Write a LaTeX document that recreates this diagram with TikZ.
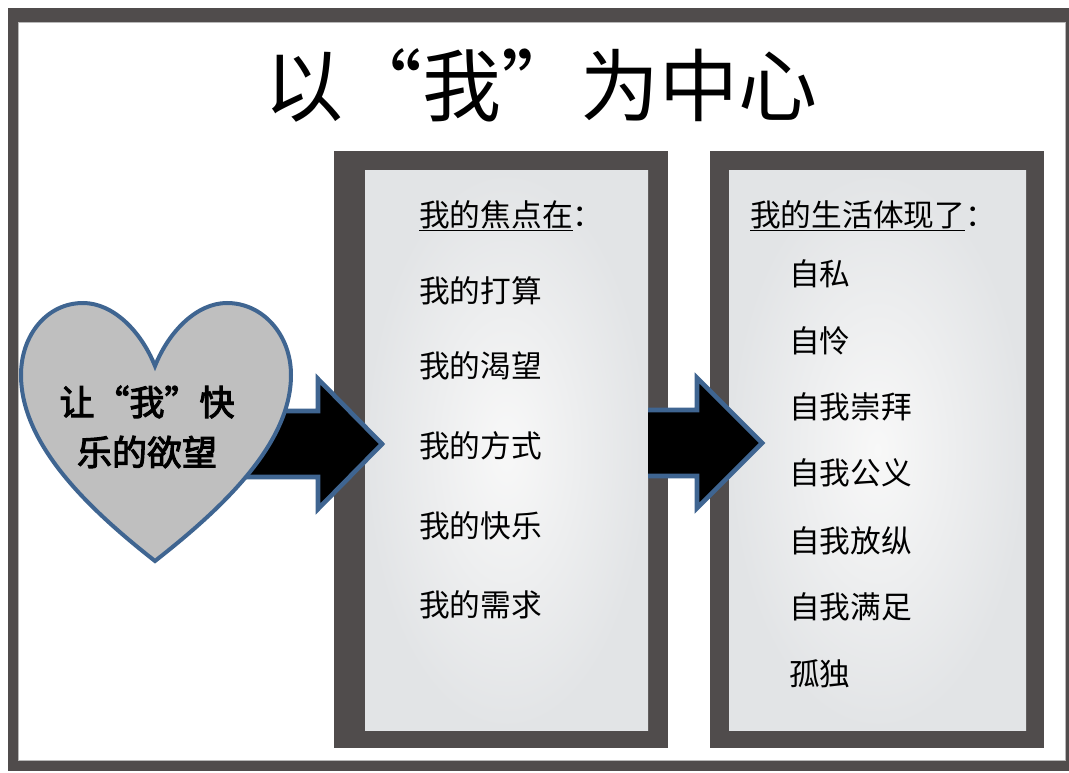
\documentclass[tikz,border=0pt]{standalone}
\usepackage{fontspec}
\setmainfont{Noto Sans CJK SC}[RawFeature=+fwid]
\newfontfamily\heartfont{Noto Sans CJK SC}[RawFeature=+fwid,FakeBold=3]
\definecolor{framegray}{HTML}{504C4C}
\definecolor{frameedge}{HTML}{B8B8B8}
\definecolor{heartblue}{HTML}{3F6591}
\definecolor{heartfill}{HTML}{BFBFBF}
\definecolor{panelout}{HTML}{E2E4E6}
\definecolor{panelin}{HTML}{F8F8F8}
\tikzset{
  panelframe/.style={fill=framegray,draw=none},
  panelface/.style={inner color=panelin,outer color=panelout,draw=none},
  arrowfill/.style={fill=black,draw=none},
  arrowline/.style={draw=heartblue,line width=4.6pt,line join=miter,miter limit=10},
  item/.style={anchor=west,inner sep=0pt,font=\fontsize{30.7}{36}\selectfont},
  hearttext/.style={anchor=center,inner sep=0pt,font=\fontsize{35}{40}\selectfont\heartfont}
}
\begin{document}
\begin{tikzpicture}[x=1pt,y=-1pt]
\useasboundingbox (0,0) rectangle (1069,773);
\fill[white] (0,0) rectangle (1069,773);
% outer frame
\fill[framegray] (8,8) rectangle (1069,771);
\fill[white,draw=frameedge,line width=1pt] (18,23) rectangle (1065,760);
\node[inner sep=0pt,font=\fontsize{79}{90}\selectfont] (title) at (541,85) {以“我”为中心};
% panels
\fill[panelframe] (334,151) rectangle (668,748);
\shade[panelface] (365,170.5) rectangle (648,730);
\fill[panelframe] (710,151) rectangle (1044,748);
\shade[panelface] (729,170.5) rectangle (1026,730);
% arrows
\coordinate (a1) at (240,411);
\coordinate (a2) at (318,411);
\coordinate (a3) at (318,379);
\coordinate (a4) at (382,444);
\coordinate (a5) at (318,509);
\coordinate (a6) at (318,477);
\coordinate (a7) at (240,477);
\fill[arrowfill] (a1)--(a2)--(a3)--(a4)--(a5)--(a6)--(a7)--cycle;
\draw[arrowline] (a1)--(a2)--(a3)--(a4)--(a5)--(a6)--(a7);
\coordinate (b1) at (648,410);
\coordinate (b2) at (697,410);
\coordinate (b3) at (697,378);
\coordinate (b4) at (762,443);
\coordinate (b5) at (697,508);
\coordinate (b6) at (697,476);
\coordinate (b7) at (648,476);
\fill[arrowfill] (b1)--(b2)--(b3)--(b4)--(b5)--(b6)--(b7)--cycle;
\draw[arrowline] (b1)--(b2)--(b3)--(b4)--(b5)--(b6)--(b7);
% heart
\draw[fill=heartfill,draw=heartblue,line width=4pt,line join=miter]
  (155,366) .. controls (141,331) and (113,303) .. (83,303)
  .. controls (47,303) and (21,335) .. (21,375)
  .. controls (21,445) and (90,510) .. (155,561)
  .. controls (220,510) and (291,445) .. (291,375)
  .. controls (291,335) and (263,303) .. (227,303)
  .. controls (197,303) and (169,331) .. (155,366) -- cycle;
\node[hearttext] (h1) at (147,402) {让“我”快};
\node[hearttext] (h2) at (147,452) {乐的欲望};
% left list
\node[item] (l0) at (419,216) {\underline{我的焦点在}：};
\node[item] (l1) at (419,291) {我的打算};
\node[item] (l2) at (419,366) {我的渴望};
\node[item] (l3) at (419,446) {我的方式};
\node[item] (l4) at (419,526) {我的快乐};
\node[item] (l5) at (419,605) {我的需求};
% right list
\node[item] (r0) at (750,216) {\underline{我的生活体现了}：};
\node[item] (r1) at (789,274) {自私};
\node[item] (r2) at (789,341) {自怜};
\node[item] (r3) at (789,407) {自我崇拜};
\node[item] (r4) at (789,473) {自我公义};
\node[item] (r5) at (789,541) {自我放纵};
\node[item] (r6) at (789,607) {自我满足};
\node[item] (r7) at (789,674) {孤独};
\end{tikzpicture}
\end{document}
